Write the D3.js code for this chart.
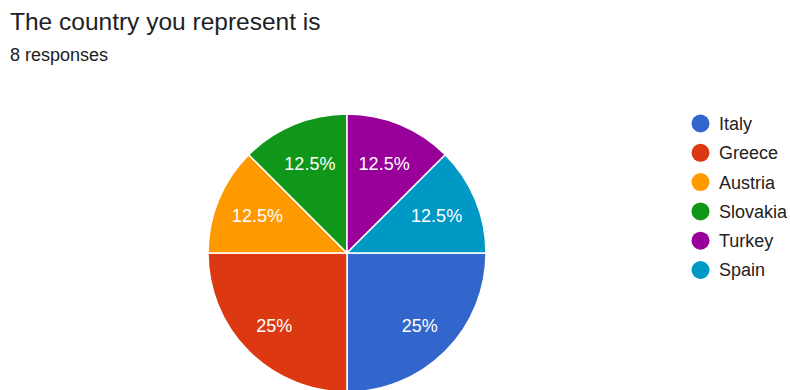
<!DOCTYPE html>
<html lang="en">
<head>
    <meta charset="UTF-8">
    <title>pie</title>
    <script src="https://d3js.org/d3.v7.min.js"></script>
    <style>
        body { margin: 0; background: #fff; }
        text { font-family: "Liberation Sans", Arial, sans-serif; }
    </style>
</head>
<body>

<svg width="790" height="390"></svg>

<script>
    // data
    var countries = ['Italy', 'Greece', 'Austria', 'Slovakia', 'Turkey', 'Spain'];
    var responses = [2, 2, 1, 1, 1, 1];
    var colors = ['#3366cc', '#dc3912', '#ff9900', '#109618', '#990099', '#0099c6'];

    var svg = d3.select('svg');
    var cx = 347, cy = 253, r = 139;
    var total = d3.sum(responses);

    // title
    svg.append('text').attr('x', 10).attr('y', 30)
        .attr('font-size', 24.5).attr('fill', '#202124')
        .text('The country you represent is');
    svg.append('text').attr('x', 10).attr('y', 61)
        .attr('font-size', 18).attr('fill', '#202124')
        .text(total + ' responses');

    var color = d3.scaleOrdinal().domain(countries).range(colors);

    // pie starts at 3 o'clock, clockwise
    var pie = d3.pie().sort(null)
        .startAngle(Math.PI / 2).endAngle(Math.PI / 2 + 2 * Math.PI);
    var arc = d3.arc().innerRadius(0).outerRadius(r);

    var pieData = pie(responses);

    var g = svg.append('g').attr('transform', 'translate(' + cx + ',' + cy + ')');

    var gs = g.selectAll('.slice')
        .data(pieData)
        .enter()
        .append('g')
        .attr('class', 'slice');

    gs.append('path')
        .attr('d', arc)
        .attr('fill', function (d, i) { return color(countries[i]); })
        .attr('stroke', '#fff')
        .attr('stroke-width', 1.5);

    gs.append('text')
        .attr('transform', function (d) {
            var lr = d.data / total > 0.2 ? 103 : 97;
            var a = d3.arc().innerRadius(lr).outerRadius(lr);
            return 'translate(' + a.centroid(d) + ')';
        })
        .attr('text-anchor', 'middle')
        .attr('dy', '0.36em')
        .attr('font-size', 18)
        .attr('fill', '#fff')
        .text(function (d) {
            return d3.format('.3~')(d.data / total * 100) + '%';
        });

    // legend
    var legend = svg.append('g').selectAll('g')
        .data(countries)
        .enter()
        .append('g')
        .attr('transform', function (d, i) { return 'translate(700.5,' + (123.5 + i * 29.3) + ')'; });

    legend.append('circle').attr('r', 9).attr('fill', function (d) { return color(d); });
    legend.append('text')
        .attr('x', 18.5).attr('dy', '0.36em')
        .attr('font-size', 18).attr('fill', '#222')
        .text(function (d) { return d; });
</script>
</body>
</html>
